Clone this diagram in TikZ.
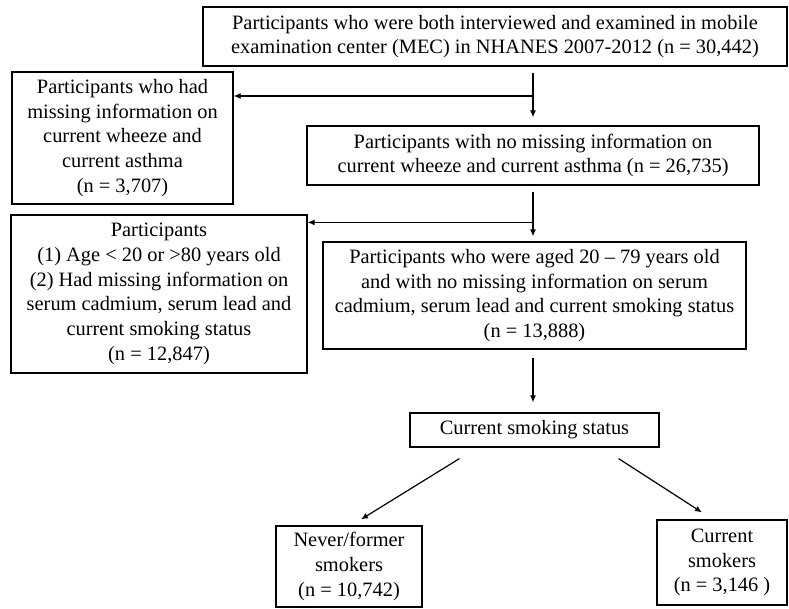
\documentclass[tikz,border=0pt]{standalone}
\usepackage{fontspec}
\setmainfont{Liberation Serif}
\usetikzlibrary{
	positioning,
	arrows.meta,
	calc
}

\begin{document}
\begin{tikzpicture}[x=1pt,y=-1pt,
		box/.style={draw,line width=1.2pt,align=center,inner sep=0pt,
			font=\fontsize{20.4}{24.7}\selectfont},
		sz/.style 2 args={minimum width=#1pt,minimum height=#2pt},
		flow/.style={-{Latex[length=7pt,width=6pt]},line width=1.2pt}]
		\useasboundingbox (0,0) rectangle (789,608);

		\node[box,sz={584}{59}]  (top)     at (495,36.5)  {Participants who were both interviewed and examined in mobile\\examination center (MEC) in NHANES 2007-2012 (n = 30,442)};
		\node[box,sz={221}{132}] (miss1)   at (122.5,138) {Participants who had\\missing information on\\current wheeze and\\current asthma\\(n = 3,707)};
		\node[box,sz={452}{59}]  (nomiss)  at (533,155.5) {Participants with no missing information on\\current wheeze and current asthma (n = 26,735)};
		\node[box,sz={296}{158}] (excl)    at (159,294)   {Participants\\(1) Age < 20 or >80 years old\\(2) Had missing information on\\serum cadmium, serum lead and\\current smoking status\\(n = 12,847)};
		\node[box,sz={423}{107}] (aged)    at (534.5,295.5) {Participants who were aged 20 -- 79 years old\\and with no missing information on serum\\cadmium, serum lead and current smoking status\\(n = 13,888)};
		\node[box,sz={249}{34}]  (status)  at (534.5,430) {Current smoking status};
		\node[box,sz={146}{81}]  (never)   at (349,566.5) {Never/former\\smokers\\(n = 10,742)};
		\node[box,sz={130}{85}]  (current) at (722,562.5) {Current\\smokers\\(n = 3,146 )};

		% first exclusion
		\draw[flow] ([yshift=-6pt]top.south -| nomiss.north) -- ([yshift=8pt]nomiss.north);
		\coordinate (b1) at ($(top.south -| nomiss.north)!0.5!(nomiss.north)$);
		\draw[flow] (b1) -- (b1 -| miss1.east);

		% second exclusion
		\draw[flow] ([yshift=-6pt]nomiss.south) -- ([yshift=5pt]nomiss.south |- aged.north);
		\coordinate (b2) at ($(nomiss.south)!0.66!(nomiss.south |- aged.north)$);
		\draw[flow] (b2) -- (b2 -| excl.east);

		\draw[flow] ([yshift=-8pt]aged.south -| nomiss.south) -- ([yshift=10pt]status.north -| nomiss.south);

		% split by smoking
		\draw[flow] ([xshift=50pt,yshift=-11pt]status.south west) -- ([xshift=12pt,yshift=6pt]never.north);
		\draw[flow] ([xshift=-41pt,yshift=-11pt]status.south east) -- ([xshift=-20pt,yshift=7pt]current.north);
	\end{tikzpicture}
\end{document}
